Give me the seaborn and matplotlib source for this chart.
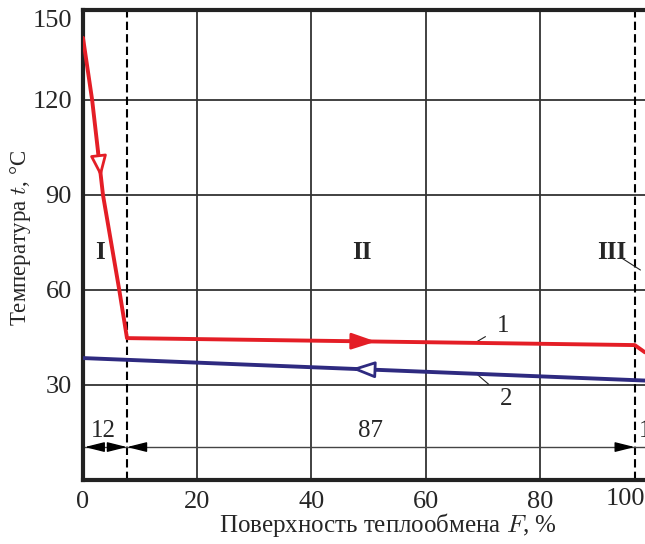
import numpy as np
import pandas as pd
import matplotlib.pyplot as plt
import seaborn as sns

# данные
hot_F = [0, 1.6, 3.5, 6.35, 7.7, 96.6, 98.4]
hot_t = [139.6, 120, 90, 60, 44.8, 42.6, 40.3]
cold_F = [0, 98.4]
cold_t = [38.5, 31.4]
zone_bounds = [7.7, 96.6]
zone_names = ['I', 'II', 'III']
zone_x = [3.0, 48.8, 92.6]
zone_share = ['12', '87', '1']
share_x = [3.5, 50.3, 98.4]
x_ticks = [0, 20, 40, 60, 80]
y_ticks = [30, 60, 90, 120]

red = '#e41e26'
blue = '#2e2a80'

sns.set_style('white')
plt.rcParams['font.family'] = ['Liberation Serif', 'DejaVu Serif']
plt.rcParams['mathtext.fontset'] = 'cm'

fig = plt.figure(figsize=(6.45, 5.44), dpi=100)
ax = fig.add_axes([83/645, 64/544, 562/645, 470/544])
ax.set_xlim(0, 98.4)
ax.set_ylim(0, 148.4)

# сетка
for x in x_ticks[1:]:
    ax.axvline(x, color='#333333', lw=1.3, zorder=1)
for y in y_ticks:
    ax.axhline(y, color='#333333', lw=1.3, zorder=1)
for x in zone_bounds:
    ax.axvline(x, color='black', lw=1.5, ls=(0, (4, 2)), zorder=2)

# кривые
hot = pd.DataFrame({'F': hot_F, 't': hot_t})
cold = pd.DataFrame({'F': cold_F, 't': cold_t})
sns.lineplot(data=hot, x='F', y='t', sort=False, color=red, lw=2.8, ax=ax, zorder=4)
sns.lineplot(data=cold, x='F', y='t', sort=False, color=blue, lw=2.8, ax=ax, zorder=4)

# стрелки направления
tip = 95.5
xt = np.interp(-tip, [-h for h in hot_t[:5]], hot_F[:5])
xb = np.interp(-104.0, [-h for h in hot_t[:5]], hot_F[:5])
ax.annotate('', xy=(xt, tip), xytext=(xb, 104.0),
            arrowprops=dict(arrowstyle='-|>,head_length=1.3,head_width=0.5', fc='white',
                            ec=red, lw=2.0, shrinkA=0, shrinkB=0, mutation_scale=10), zorder=5)
ax.annotate('', xy=(51.3, np.interp(51.3, hot_F, hot_t)),
            xytext=(46.5, np.interp(46.5, hot_F, hot_t)),
            arrowprops=dict(arrowstyle='-|>,head_length=1.5,head_width=0.5', fc=red,
                            ec=red, lw=2.0, shrinkA=0, shrinkB=0, mutation_scale=10), zorder=5)
ax.annotate('', xy=(47.0, np.interp(47.0, cold_F, cold_t)),
            xytext=(51.5, np.interp(51.5, cold_F, cold_t)),
            arrowprops=dict(arrowstyle='-|>,head_length=1.4,head_width=0.5', fc='white',
                            ec=blue, lw=2.0, shrinkA=0, shrinkB=0, mutation_scale=10), zorder=5)

# размерная линия
dim_y = 10.4
ax.axhline(dim_y, color='#444444', lw=1.0, zorder=2)
arr = dict(arrowstyle='-|>,head_length=1.2,head_width=0.3', fc='black', ec='black',
           lw=1.0, shrinkA=0, shrinkB=0, mutation_scale=10)
ax.annotate('', xy=(0.3, dim_y), xytext=(3.3, dim_y), arrowprops=arr)
ax.annotate('', xy=(zone_bounds[0], dim_y), xytext=(zone_bounds[0] - 3, dim_y), arrowprops=arr)
ax.annotate('', xy=(zone_bounds[0], dim_y), xytext=(zone_bounds[0] + 3, dim_y), arrowprops=arr)
ax.annotate('', xy=(zone_bounds[1], dim_y), xytext=(zone_bounds[1] - 3, dim_y), arrowprops=arr)
for x, s in zip(share_x, zone_share):
    ax.text(x, dim_y + 1.5, s, ha='center', va='bottom', fontsize=18, zorder=6)

# зоны
for x, s in zip(zone_x, zone_names):
    ax.text(x, 71.7, s, ha='center', va='center', fontsize=18, fontweight='bold', zorder=6)
ax.annotate('', xy=(97.6, 66.3), xytext=(94.3, 70.1),
            arrowprops=dict(arrowstyle='-', color='#222222', lw=0.8, shrinkA=0, shrinkB=0))

# номера кривых
ax.annotate('1', xy=(68.6, np.interp(68.6, hot_F, hot_t)), xytext=(73.6, 48.6),
            ha='center', va='center', fontsize=18,
            arrowprops=dict(arrowstyle='-', color='#222222', lw=0.8, shrinkA=7, shrinkB=0))
ax.annotate('2', xy=(68.9, np.interp(68.9, cold_F, cold_t)), xytext=(74.0, 25.6),
            ha='center', va='center', fontsize=18,
            arrowprops=dict(arrowstyle='-', color='#222222', lw=0.8, shrinkA=7, shrinkB=0))

# оси
ax.set_xticks(x_ticks)
ax.set_yticks(y_ticks)
ax.tick_params(length=0, labelsize=19)
ax.tick_params(axis='x', pad=8)
ax.tick_params(axis='y', pad=8)
ax.text(-0.02, 1.0, '150', transform=ax.transAxes, ha='right', va='top', fontsize=19)
ax.text(1.0, -0.018, '100', transform=ax.transAxes, ha='right', va='top', fontsize=19)
ax.set_xlabel('Поверхность теплообмена $F$, %', fontsize=18)
ax.set_ylabel('Температура $t$, °C', fontsize=16.5)
ax.xaxis.set_label_coords(0.543, -0.066)
ax.yaxis.set_label_coords(-0.089, 0.515)

for side in ['left', 'bottom', 'top']:
    ax.spines[side].set_linewidth(3)
    ax.spines[side].set_color('#222222')
ax.spines['right'].set_visible(False)

fig.savefig('out.png', dpi=100)
